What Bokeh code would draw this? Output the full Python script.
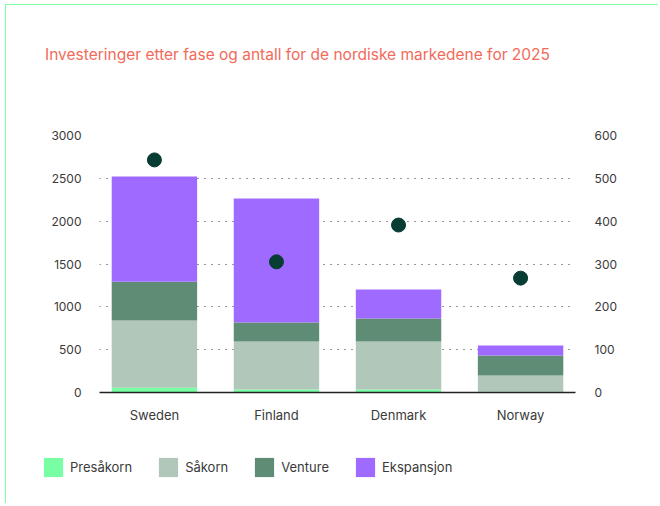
from bokeh.plotting import figure
from bokeh.layouts import column
from bokeh.models import (ColumnDataSource, Range1d, LinearAxis, Legend, LegendItem, Label,
                          FactorRange, SingleIntervalTicker)
from bokeh.embed import file_html
from bokeh.resources import INLINE

# ---- data ----
markets = ["Sweden", "Finland", "Denmark", "Norway"]
stages = ["Presåkorn", "Såkorn", "Venture", "Ekspansjon"]
presakorn = [55, 35, 35, 8]
sakorn = [785, 560, 560, 190]
venture = [452, 222, 269, 234]
ekspansjon = [1229, 1448, 338, 117]
antall = [543, 305, 391, 267]

colors = ["#78FFA4", "#B0C7BA", "#5F8C74", "#9F6AFF"]
dot_color = "#083D33"
title_text = "Investeringer etter fase og antall for de nordiske markedene for 2025"

FONT = "Inter"
TXT = "#3a3a3a"

src = ColumnDataSource(dict(market=markets, Presåkorn=presakorn, Såkorn=sakorn,
                            Venture=venture, Ekspansjon=ekspansjon, antall=antall))

W = 652

# ---- title strip ----
H0 = 80
tf = figure(x_range=Range1d(0, 1), y_range=Range1d(0, 1), width=W, height=H0,
            output_backend="svg", toolbar_location=None,
            x_axis_type=None, y_axis_type=None,
            min_border_left=0, min_border_right=0, min_border_top=0, min_border_bottom=0)
tf.outline_line_color = None
tf.grid.grid_line_color = None
tf.border_fill_color = "white"
tf.background_fill_color = "white"
tf.add_layout(Label(x=38.5, y=31, x_units="screen", y_units="screen", text=title_text,
                    text_font=FONT, text_font_size="15.5px", text_color="#F26A5A",
                    text_baseline="middle"))

# ---- main chart ----
H = 445 - H0
xr = FactorRange(factors=markets, range_padding=-0.05, range_padding_units="absolute")
p = figure(x_range=xr, y_range=Range1d(0, 3000), width=W, height=H,
           output_backend="svg", toolbar_location=None,
           min_border_left=93, min_border_right=W - 569, min_border_top=130 - H0,
           min_border_bottom=445 - 387)
p.outline_line_color = None
p.background_fill_color = "white"
p.border_fill_color = "white"

renderers = p.vbar_stack(stages, x="market", width=0.70, color=colors, source=src, line_width=0)

p.extra_y_ranges = {"antall": Range1d(0, 600)}
p.scatter(x="market", y="antall", source=src, y_range_name="antall",
          size=14, color=dot_color, line_color=dot_color)

# axes
p.yaxis.ticker = SingleIntervalTicker(interval=500)
ax = p.yaxis[0]
ax.axis_line_color = None
ax.major_tick_line_color = None
ax.minor_tick_line_color = None
ax.major_tick_out = 0
ax.major_label_standoff = 14
ax.major_label_text_font = FONT
ax.major_label_text_font_size = "12px"
ax.major_label_text_color = TXT

rax = LinearAxis(y_range_name="antall", ticker=SingleIntervalTicker(interval=100))
rax.axis_line_color = None
rax.major_tick_line_color = None
rax.minor_tick_line_color = None
rax.major_tick_out = 0
rax.major_label_standoff = 15
rax.major_label_text_font = FONT
rax.major_label_text_font_size = "12px"
rax.major_label_text_color = TXT
p.add_layout(rax, "right")

xa = p.xaxis[0]
xa.axis_line_color = "#222222"
xa.axis_line_width = 1.5
xa.major_tick_line_color = None
xa.minor_tick_line_color = None
xa.major_tick_out = 0
xa.major_label_standoff = 14
xa.major_label_text_font = FONT
xa.major_label_text_font_size = "13px"
xa.major_label_text_color = TXT

p.xgrid.grid_line_color = None
p.ygrid.grid_line_color = "#333333"
p.ygrid.grid_line_dash = "1 6"
p.ygrid.grid_line_width = 1.2

# ---- legend strip ----
H2 = 53
lf = figure(x_range=xr, y_range=Range1d(-2, -1), width=W, height=H2,
            output_backend="svg", toolbar_location=None,
            x_axis_type=None, y_axis_type=None,
            min_border_left=0, min_border_right=0, min_border_top=0, min_border_bottom=0)
lf.outline_line_color = None
lf.grid.grid_line_color = None
lf.border_fill_color = "white"
lf.background_fill_color = "white"
lrs = lf.vbar_stack(stages, x="market", width=0.70, color=colors, source=src, line_width=0)
for r in lrs:
    r.visible = False

for f in (tf, p, lf):
    if "frame_align" in f.properties():
        f.frame_align = False

legend = Legend(items=[LegendItem(label=s, renderers=[r]) for s, r in zip(stages, lrs)],
                location=(35, 24), orientation="horizontal", glyph_width=24, glyph_height=24,
                label_standoff=5, spacing=24, padding=0, margin=0,
                border_line_color=None, background_fill_alpha=0,
                inactive_fill_alpha=0,
                label_text_font=FONT, label_text_font_size="13px", label_text_color=TXT)
lf.add_layout(legend, "center")

layout = column(tf, p, lf, spacing=0)
layout.styles = {"margin-left": "5px", "margin-top": "4px",
                 "border-top": "1.5px solid #7DFFA8", "border-left": "1.5px solid #7DFFA8"}

open("out.html", "w").write(file_html(layout, INLINE))
